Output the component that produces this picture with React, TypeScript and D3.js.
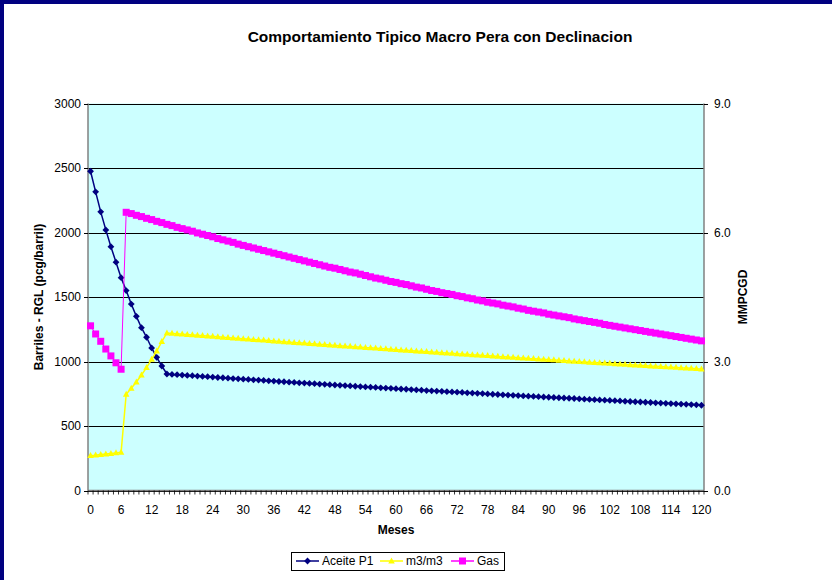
import React from 'react';
import * as d3 from 'd3';

const months: number[] = Array.from({ length: 121 }, (_, i) => i);

const aceiteP1: number[] = [
  2475, 2315, 2160, 2020, 1890, 1770, 1650, 1550, 1445, 1350, 1262, 1188, 1105, 1032, 965,
  903, 900, 898, 895, 892, 890, 887, 884, 882, 879, 876, 874, 871, 868, 866,
  863, 861, 858, 856, 853, 850, 848, 845, 843, 840, 838, 835, 833, 830, 828,
  825, 823, 820, 818, 815, 813, 811, 808, 806, 803, 801, 799, 796, 794, 792,
  789, 787, 785, 782, 780, 778, 775, 773, 771, 769, 766, 764, 762, 760, 757,
  755, 753, 751, 749, 746, 744, 742, 740, 738, 736, 733, 731, 729, 727, 725,
  723, 721, 719, 717, 715, 713, 711, 708, 706, 704, 702, 700, 698, 696, 694,
  692, 690, 688, 686, 684, 682, 680, 678, 676, 674, 672, 670, 668, 666, 664, 661,
];

const m3m3: number[] = [
  270, 274, 279, 283, 287, 291, 296, 746, 792, 841, 895, 952, 1017, 1081, 1154,
  1221, 1218, 1215, 1212, 1209, 1206, 1203, 1200, 1197, 1194, 1191, 1188, 1185, 1182, 1179,
  1176, 1173, 1170, 1167, 1165, 1162, 1159, 1156, 1153, 1150, 1147, 1145, 1142, 1139, 1136,
  1133, 1131, 1128, 1125, 1122, 1119, 1117, 1114, 1111, 1108, 1106, 1103, 1100, 1098, 1095,
  1092, 1089, 1087, 1084, 1081, 1079, 1076, 1073, 1071, 1068, 1065, 1063, 1060, 1058, 1055,
  1052, 1050, 1047, 1045, 1042, 1039, 1037, 1034, 1032, 1029, 1027, 1024, 1022, 1019, 1017,
  1014, 1012, 1009, 1007, 1004, 1002, 999, 997, 994, 992, 989, 987, 985, 982, 980,
  977, 975, 973, 970, 968, 965, 963, 961, 958, 956, 954, 951, 949, 947, 944, 942,
];

const gas: number[] = [
  3.83, 3.64, 3.47, 3.29, 3.13, 2.97, 2.82,
  6.47, 6.44, 6.40, 6.37, 6.33, 6.30, 6.26, 6.23, 6.19, 6.16,
  6.12, 6.09, 6.06, 6.03, 5.99, 5.96, 5.93, 5.90, 5.86, 5.83,
  5.80, 5.77, 5.73, 5.70, 5.67, 5.64, 5.61, 5.58, 5.55, 5.52,
  5.49, 5.46, 5.43, 5.40, 5.37, 5.34, 5.31, 5.28, 5.25, 5.22,
  5.19, 5.17, 5.14, 5.11, 5.08, 5.06, 5.03, 5.00, 4.97, 4.94,
  4.92, 4.89, 4.86, 4.84, 4.81, 4.79, 4.76, 4.73, 4.71, 4.68,
  4.65, 4.63, 4.60, 4.58, 4.56, 4.53, 4.51, 4.48, 4.46, 4.43,
  4.41, 4.38, 4.36, 4.34, 4.31, 4.29, 4.27, 4.24, 4.22, 4.19,
  4.17, 4.15, 4.13, 4.10, 4.08, 4.06, 4.04, 4.02, 3.99, 3.97,
  3.95, 3.93, 3.91, 3.89, 3.86, 3.84, 3.82, 3.80, 3.78, 3.76,
  3.74, 3.72, 3.70, 3.68, 3.66, 3.64, 3.62, 3.60, 3.58, 3.56,
  3.54, 3.52, 3.50, 3.48,
];

const leftTicks: number[] = [0, 500, 1000, 1500, 2000, 2500, 3000];
const rightTicks: number[] = [0, 3, 6, 9];
const xLabelStep = 6;

const title = 'Comportamiento Tipico Macro Pera con Declinacion';
const yTitle = 'Barriles - RGL (pcg/barril)';
const y2Title = 'MMPCGD';
const xTitle = 'Meses';
const legendNames: string[] = ['Aceite P1', 'm3/m3', 'Gas'];

const W = 832;
const H = 580;
const L = 88;
const R = 704;
const T = 103.5;
const B = 490.5;
const FONT = '"Liberation Sans", Arial, sans-serif';
const NAVY = '#000080';
const YELLOW = '#FFFF00';
const MAGENTA = '#FF00FF';

const diamond = (r: number) => `M0,${-r}L${r},0L0,${r}L${-r},0Z`;
const triangle = (w: number, h: number) => `M0,${-h * 0.6}L${w / 2},${h * 0.4}L${-w / 2},${h * 0.4}Z`;

export default function App() {
  const x = d3.scalePoint<number>().domain(months).range([L, R]).padding(0.5);
  const step = x.step();
  const y = d3.scaleLinear().domain([0, 3000]).range([B, T]);
  const y2 = d3.scaleLinear().domain([0, 9]).range([B, T]);

  const lineL = d3.line<number>().x((_, i) => x(months[i]) as number).y((d) => y(d));
  const lineR = d3.line<number>().x((_, i) => x(months[i]) as number).y((d) => y2(d));

  const boundaries = d3.range(0, months.length + 1).map((i) => L + i * step);

  const legendY = 561;
  const legendItems = [
    { name: legendNames[0], color: NAVY, lx: 296, tx: 322, marker: 'diamond' },
    { name: legendNames[1], color: YELLOW, lx: 380, tx: 406, marker: 'triangle' },
    { name: legendNames[2], color: MAGENTA, lx: 451, tx: 477, marker: 'square' },
  ];

  const renderMarker = (kind: string, cx: number, cy: number, color: string, key: any) => {
    if (kind === 'diamond') return <path key={key} d={diamond(3.4)} transform={`translate(${cx},${cy})`} fill={color} />;
    if (kind === 'triangle') return <path key={key} d={triangle(6.5, 6)} transform={`translate(${cx},${cy})`} fill={color} />;
    return <rect key={key} x={cx - 3.5} y={cy - 3.5} width={7} height={7} fill={color} />;
  };

  return (
    <svg width={W} height={H} style={{ position: 'absolute', left: 0, top: 0, display: 'block' }} fontFamily={FONT}>
      <rect x={0} y={0} width={W} height={H} fill="#ffffff" />
      <rect x={2} y={2} width={W + 20} height={H + 20} fill="none" stroke={NAVY} strokeWidth={4} />

      <text x={440} y={42} textAnchor="middle" fontSize={15.5} fontWeight="bold" fill="#000">{title}</text>

      <rect x={L} y={T} width={R - L} height={B - T} fill="#CCFFFF" />

      {leftTicks.map((t) => (
        <line key={'g' + t} x1={L} x2={R} y1={Math.round(y(t)) + 0.5} y2={Math.round(y(t)) + 0.5} stroke="#000" strokeWidth={1} />
      ))}

      {/* axes */}
      <line x1={L} x2={L} y1={T} y2={B} stroke="#808080" strokeWidth={1.5} />
      <line x1={R} x2={R} y1={T} y2={B} stroke="#808080" strokeWidth={1.5} />
      <line x1={L} x2={R} y1={B} y2={B} stroke="#808080" strokeWidth={1.5} />

      {leftTicks.map((t) => (
        <g key={'lt' + t}>
          <line x1={L - 4} x2={L} y1={Math.round(y(t)) + 0.5} y2={Math.round(y(t)) + 0.5} stroke="#000" />
          <text x={L - 7} y={y(t) + 4.2} textAnchor="end" fontSize={12} fill="#000">{t}</text>
        </g>
      ))}
      {rightTicks.map((t) => (
        <g key={'rt' + t}>
          <line x1={R} x2={R + 4} y1={Math.round(y2(t)) + 0.5} y2={Math.round(y2(t)) + 0.5} stroke="#000" />
          <text x={R + 10} y={y2(t) + 4.2} textAnchor="start" fontSize={12} fill="#000">{t.toFixed(1)}</text>
        </g>
      ))}
      {boundaries.map((bx, i) => (
        <line key={'bt' + i} x1={bx} x2={bx} y1={B} y2={B + 4} stroke="#000" strokeWidth={0.8} />
      ))}
      {months.filter((m) => m % xLabelStep === 0).map((m) => (
        <text key={'xl' + m} x={x(m) as number} y={514} textAnchor="middle" fontSize={12} fill="#000">{m}</text>
      ))}

      <text x={396} y={534} textAnchor="middle" fontSize={12} fontWeight="bold" fill="#000">{xTitle}</text>
      <text transform={`translate(43,${(T + B) / 2}) rotate(-90)`} textAnchor="middle" fontSize={12} fontWeight="bold" fill="#000">{yTitle}</text>
      <text transform={`translate(747,${(T + B) / 2}) rotate(-90)`} textAnchor="middle" fontSize={12} fontWeight="bold" fill="#000">{y2Title}</text>

      {/* series */}
      <path d={lineL(aceiteP1) || ''} fill="none" stroke={NAVY} strokeWidth={1.5} />
      {aceiteP1.map((v, i) => renderMarker('diamond', x(months[i]) as number, y(v), NAVY, 'a' + i))}

      <path d={lineL(m3m3) || ''} fill="none" stroke={YELLOW} strokeWidth={1.5} />
      {m3m3.map((v, i) => renderMarker('triangle', x(months[i]) as number, y(v), YELLOW, 'm' + i))}

      <path d={lineR(gas) || ''} fill="none" stroke={MAGENTA} strokeWidth={1} />
      {gas.map((v, i) => renderMarker('square', x(months[i]) as number, y2(v), MAGENTA, 'g' + i))}

      {/* legend */}
      <rect x={291.5} y={552.5} width={213} height={18} fill="#fff" stroke="#000" strokeWidth={1} />
      {legendItems.map((it, i) => (
        <g key={'lg' + i}>
          <line x1={it.lx} x2={it.lx + 23} y1={legendY} y2={legendY} stroke={it.color} strokeWidth={1.5} />
          {renderMarker(it.marker, it.lx + 11.5, legendY, it.color, 'lm' + i)}
          <text x={it.tx} y={legendY + 4.2} fontSize={12} fill="#000">{it.name}</text>
        </g>
      ))}
    </svg>
  );
}
